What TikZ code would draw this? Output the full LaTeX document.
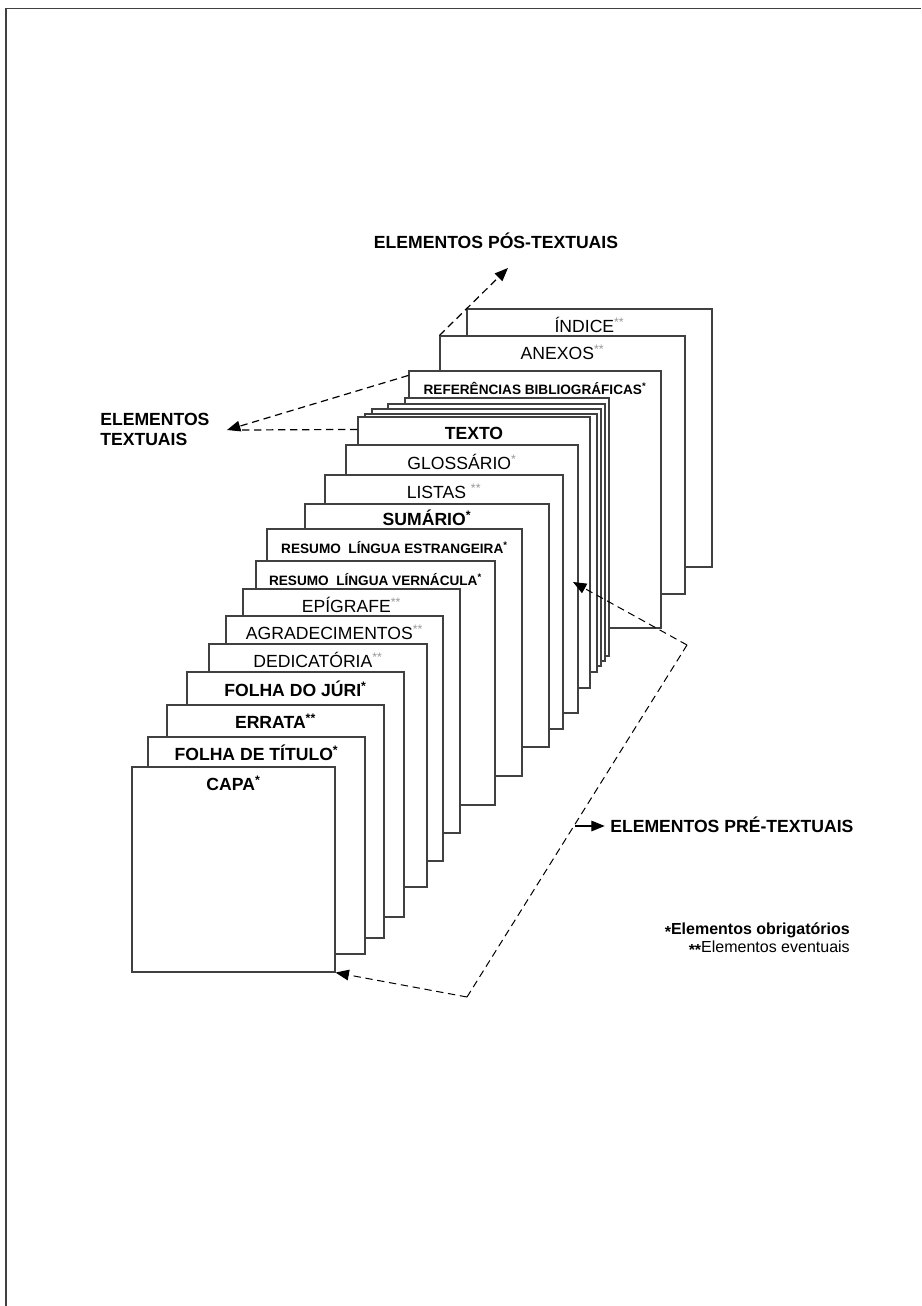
\documentclass[tikz,border=0pt]{standalone}
\usepackage{fontspec}
\setmainfont{Liberation Sans}
\usetikzlibrary{arrows.meta,fit}
\newcommand\ob{\textsuperscript{\bfseries *}}
\newcommand\evg{\textsuperscript{\color{black!40}**}}
\newcommand\evb{\textsuperscript{\bfseries **}}
\newcommand\glg{\textsuperscript{\color{black!40}*}}
\newcommand\pg[5]{%
  \path (#2,#3) coordinate (#1-nw) (#4,#5) coordinate (#1-se);
  \node[page, fit=(#1-nw)(#1-se)] (#1) {};}
\begin{document}
\begin{tikzpicture}[x=0.75pt,y=-0.75pt,
  page/.style={draw=black!75, line width=0.85pt, fill=white, inner sep=0pt},
  lab/.style={anchor=base, inner sep=0pt, font=\fontsize{13.2}{15}\selectfont},
  labb/.style={anchor=base, inner sep=0pt, font=\fontsize{13.2}{15}\selectfont\bfseries},
  labs/.style={anchor=base, inner sep=0pt, font=\fontsize{10.2}{12}\selectfont\bfseries},
  ttl/.style={inner sep=0pt, font=\fontsize{13.2}{15}\selectfont\bfseries},
  leg/.style={anchor=base east, inner sep=0pt, font=\fontsize{12}{14}\selectfont},
  dline/.style={draw=black, line width=0.9pt, dash pattern=on 5.5pt off 3.5pt},
  dthin/.style={draw=black, line width=0.75pt, dash pattern=on 5.5pt off 3.5pt},
  tip/.style={-{Triangle[length=10pt,width=8pt]}}
]
\useasboundingbox (0,0) rectangle (921,1306);
% page frame
\draw[black!75, line width=1.1pt] (6,1306) -- (6,8.5) -- (921,8.5);

% pages, back to front
\pg{indice}{467}{309}{712}{567}
\pg{anexos}{440}{336}{685}{594}
\pg{ref}{409}{371}{661}{628}
\node[labs] (lref) at ([yshift=-18pt]ref.north) {REFERÊNCIAS BIBLIOGRÁFICAS\ob};
\pg{ta}{405}{398}{609}{656}
\pg{tb}{388}{404}{605}{661}
\pg{tc}{372}{409}{601}{666}
\pg{td}{365}{414}{597}{672}
\pg{texto}{358}{417}{590}{688}
\pg{gloss}{346}{445}{578}{713}
\pg{listas}{325}{475}{563}{729}
\pg{sumario}{305}{504}{549}{747}
\pg{rest}{267}{529}{522}{776}
\pg{rver}{256}{561}{495}{805}
\pg{epig}{243}{589}{460}{833}
\pg{agrad}{226}{616}{443}{861}
\pg{dedic}{209}{644}{427}{887}
\pg{juri}{187}{672}{404}{917}
\pg{errata}{167}{705}{384}{938}
\pg{ftit}{148}{737}{365}{954}
\pg{capa}{132}{767}{335}{972}

% page labels
\node[lab]  (lindice) at ([yshift=-18pt]indice.north) {ÍNDICE\evg};
\node[lab]  (lanexos) at ([yshift=-18pt]anexos.north) {ANEXOS\evg};
\node[labb] (ltexto)  at ([yshift=-17.5pt]texto.north) {TEXTO};
\node[lab]  (lgloss)  at ([yshift=-18.5pt]gloss.north) {GLOSSÁRIO\glg};
\node[lab]  (llistas) at ([yshift=-18pt]listas.north) {LISTAS \evg};
\node[labb] (lsum)    at ([yshift=-16.5pt]sumario.north) {SUMÁRIO\ob};
\node[labs] (lrest)   at ([yshift=-19pt]rest.north) {RESUMO\ \ LÍNGUA ESTRANGEIRA\ob};
\node[labs] (lrver)   at ([yshift=-18.5pt]rver.north) {RESUMO\ \ LÍNGUA VERNÁCULA\ob};
\node[lab]  (lepig)   at ([yshift=-18pt]epig.north) {EPÍGRAFE\evg};
\node[lab]  (lagrad)  at ([yshift=-18pt]agrad.north) {AGRADECIMENTOS\evg};
\node[lab]  (ldedic)  at ([yshift=-18pt]dedic.north) {DEDICATÓRIA\evg};
\node[labb] (ljuri)   at ([yshift=-18.5pt]juri.north) {FOLHA DO JÚRI\ob};
\node[labb] (lerrata) at ([yshift=-18pt]errata.north) {ERRATA\evb};
\node[labb] (lftit)   at ([yshift=-18pt]ftit.north) {FOLHA DE TÍTULO\ob};
\node[labb] (lcapa)   at ([yshift=-18pt]capa.north) {CAPA\ob};

% section titles
\node[ttl, anchor=base] (pos) at (496,248) {ELEMENTOS PÓS-TEXTUAIS};
\node[ttl, anchor=base west] (txa) at (100,425) {ELEMENTOS};
\node[ttl, anchor=base west] (txb) at (100,445) {TEXTUAIS};
\node[ttl, anchor=base west] (pre) at (610,832) {ELEMENTOS PRÉ-TEXTUAIS};

% legend
\node[leg] (lego) at (850,934) {\bfseries\raisebox{-0.4ex}{*}Elementos obrigatórios};
\node[leg] (lege) at (850,952) {\bfseries\raisebox{-0.4ex}{**}\mdseries Elementos eventuais};

% connectors
\coordinate (tipP) at (508,268);
\coordinate (tipT) at (227,430);
\coordinate (tipS) at (573,582);
\coordinate (cornR) at (687,645);
\coordinate (cornB) at (467,997);
\coordinate (preS) at (575,826);
\draw[dline, tip] (anexos.north west) -- (tipP);
\draw[dline, tip] ([yshift=-3.75pt]ref.north west) -- (tipT);
\draw[dline] ([yshift=-9.75pt]texto.north west) -- (240,430);
\draw[dthin, tip] (cornR) -- (tipS);
\draw[dthin] (cornR) -- (cornB);
\draw[dthin, tip] (cornB) -- (capa.south east);
\draw[line width=0.8pt, tip] (preS) -- ([xshift=-4pt]pre.west |- preS);
\end{tikzpicture}
\end{document}
